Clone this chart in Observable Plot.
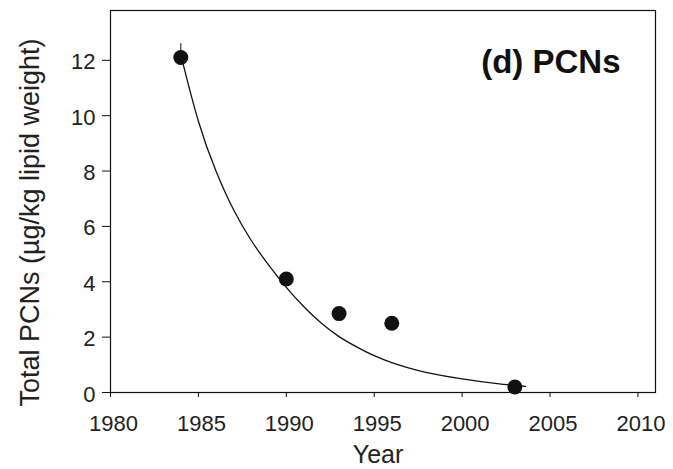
<!DOCTYPE html>
<html><head><meta charset="utf-8">
<script src="https://cdn.jsdelivr.net/npm/d3@7"></script>
<script src="https://cdn.jsdelivr.net/npm/@observablehq/plot@0.6"></script>
<style>body{margin:0;background:#fff;}</style>
</head><body><div id="chart"></div>
<script>
// Measured points
const years = [1984, 1990, 1993, 1996, 2003];
const totals = [12.1, 4.1, 2.85, 2.5, 0.2];
// Fitted decay curve
const fitYears  = [1984, 1985, 1986, 1987, 1988, 1989, 1990, 1991, 1992, 1993, 1994, 1995, 1996, 1997, 1998, 2000, 2002, 2003.6];
const fitValues = [12.2, 9.8, 8.0, 6.6, 5.5, 4.6, 3.8, 3.1, 2.5, 2.02, 1.65, 1.33, 1.08, 0.88, 0.72, 0.49, 0.32, 0.22];
// Small error bar above the first point
const errYear = [1984];
const errLow = [12.1];
const errHigh = [12.6];
const xTicks = [1980, 1985, 1990, 1995, 2000, 2005, 2010];
const yTicks = [0, 2, 4, 6, 8, 10, 12];
const title = "(d) PCNs";
const xLabel = "Year";
const yLabel = "Total PCNs (µg/kg lipid weight)";

const points = years.map((y, i) => ({year: y, value: totals[i]}));
const fit = fitYears.map((y, i) => ({year: y, value: fitValues[i]}));
const errs = errYear.map((y, i) => ({year: y, lo: errLow[i], hi: errHigh[i]}));
const blank = () => "";

const chart = Plot.plot({
  width: 673,
  height: 469,
  marginLeft: 110,
  marginRight: 18,
  marginTop: 10,
  marginBottom: 77,
  style: {fontFamily: "'Liberation Sans', Arial, sans-serif", color: "#222", background: "#fff"},
  x: {domain: [1980, 2011], label: null},
  y: {domain: [0, 13.8], label: null},
  marks: [
    Plot.frame({stroke: "#111", strokeWidth: 1.2}),
    // tick lines
    Plot.axisX({ticks: xTicks, tickFormat: blank, tickSize: 5, label: null, stroke: "#111"}),
    Plot.axisY({ticks: yTicks, tickFormat: blank, tickSize: 8, label: null, stroke: "#111"}),
    // tick labels
    Plot.axisX({ticks: xTicks, tickFormat: d => String(d), tickSize: 0, tickPadding: 23, dx: 3, fontSize: 22, label: null}),
    Plot.axisY({ticks: yTicks, tickSize: 0, tickPadding: 15, dy: 2, fontSize: 22, label: null}),
    Plot.line(fit, {x: "year", y: "value", curve: "natural", stroke: "#111", strokeWidth: 1.3}),
    Plot.ruleX(errs, {x: "year", y1: "lo", y2: "hi", stroke: "#111", strokeWidth: 1}),
    Plot.dot(points, {x: "year", y: "value", r: 7.5, fill: "#111", stroke: "none"}),
    Plot.text([title], {frameAnchor: "top-right", dx: -35, dy: 52, text: d => d, fontSize: 33, fontWeight: "bold", textAnchor: "end", lineAnchor: "middle", fill: "#111"}),
    Plot.text([xLabel], {frameAnchor: "bottom", dx: -5, dy: 62, text: d => d, fontSize: 25, textAnchor: "middle", lineAnchor: "middle", fill: "#222"}),
    Plot.text([yLabel], {frameAnchor: "left", dx: -80, dy: 21, text: d => d, rotate: -90, fontSize: 27, textAnchor: "middle", lineAnchor: "middle", fill: "#222"})
  ]
});
document.getElementById("chart").appendChild(chart);
</script>
</body></html>
